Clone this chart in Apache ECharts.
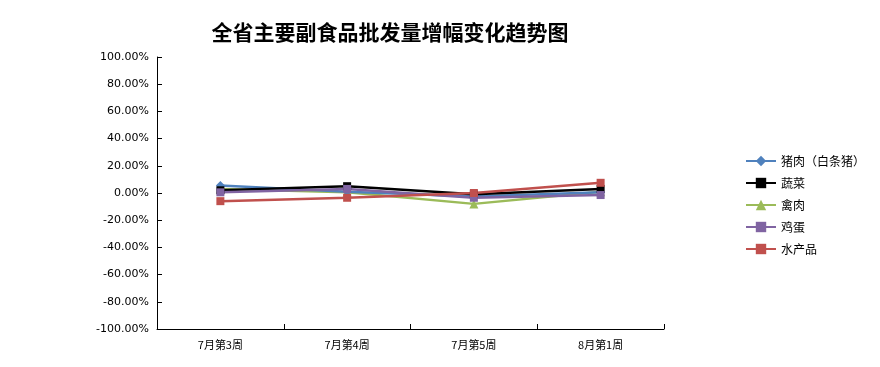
<!DOCTYPE html>
<html><head><meta charset="utf-8">
<script src="https://cdn.jsdelivr.net/npm/echarts@6/dist/echarts.min.js"></script>
<style>html,body{margin:0;padding:0;background:#fff}#c{width:880px;height:367px}</style>
</head><body><div id="c"></div>
<script>
const categories = ['7月第3周', '7月第4周', '7月第5周', '8月第1周'];
const seriesNames = ['猪肉（白条猪）', '蔬菜', '禽肉', '鸡蛋', '水产品'];
const pork = [5.5, 1.0, -2.5, 0.5];
const veg = [2.0, 5.0, -1.0, 3.0];
const poultry = [3.0, 0.5, -8.0, 1.0];
const eggs = [0.5, 3.0, -3.5, -1.5];
const aquatic = [-6.0, -3.5, 0.0, 7.5];
const yTicks = [-100, -80, -60, -40, -20, 0, 20, 40, 60, 80, 100];

const colors = ['#4f81bd', '#000000', '#9bbb59', '#8064a2', '#c0504d'];
const symbols = ['diamond', 'rect', 'triangle', 'rect', 'rect'];
const symSizes = [9, 8, 9, 8, 8];
const data = [pork, veg, poultry, eggs, aquatic];

const chart = echarts.init(document.getElementById('c'));
chart.setOption({
  animation: false,
  backgroundColor: '#fff',
  title: {
    text: '全省主要副食品批发量增幅变化趋势图',
    left: 385, top: 17, textAlign: 'center',
    textStyle: { fontFamily: 'Noto Sans CJK SC', fontWeight: 'bold', fontSize: 21, color: '#000' }
  },
  legend: {
    orient: 'vertical', left: 740, top: 150, itemGap: 10,
    itemWidth: 30, itemHeight: 13,
    textStyle: { fontFamily: 'Noto Sans CJK SC', fontSize: 12, color: '#000' },
    data: seriesNames
  },
  grid: { left: 157, top: 57, right: 216, bottom: 38 },
  xAxis: {
    type: 'category', data: categories, boundaryGap: true,
    axisLine: { onZero: false, lineStyle: { color: '#000', width: 1 } },
    axisTick: { show: true, inside: true, length: 5, lineStyle: { color: '#000' } },
    axisLabel: { color: '#000', fontSize: 11, fontFamily: 'Noto Sans CJK SC', margin: 10 }
  },
  yAxis: {
    type: 'value', min: -100, max: 100, interval: 20,
    axisLine: { show: true, lineStyle: { color: '#000', width: 1 } },
    axisTick: { show: true, inside: true, length: 5, lineStyle: { color: '#000' } },
    splitLine: { show: false },
    axisLabel: { color: '#000', fontSize: 11, fontFamily: 'DejaVu Sans', margin: 8,
      formatter: v => v.toFixed(2) + '%' }
  },
  series: seriesNames.map((n, i) => ({
    name: n, type: 'line', data: data[i],
    symbol: symbols[i], symbolSize: symSizes[i], showSymbol: true,
    lineStyle: { color: colors[i], width: 2.5 },
    itemStyle: { color: colors[i] },
    z: i === 2 ? 1 : 2
  }))
});
</script></body></html>
